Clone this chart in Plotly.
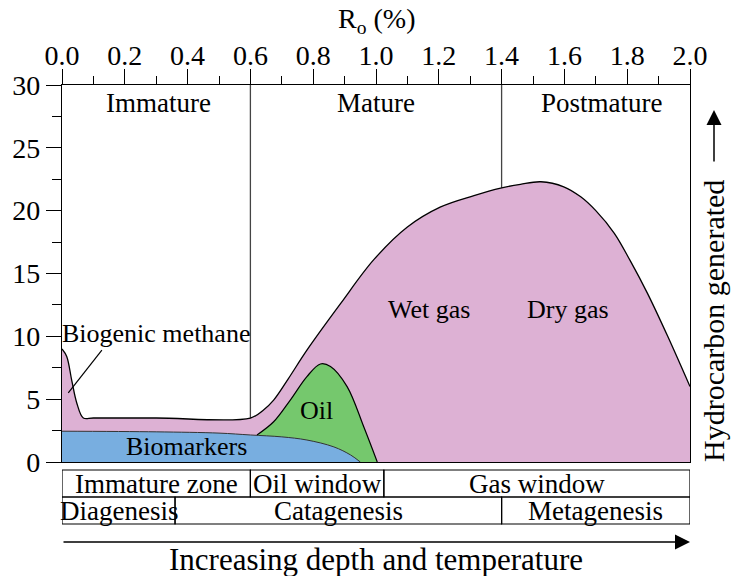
import plotly.graph_objects as go

# Hydrocarbon generation envelope vs. vitrinite reflectance Ro (%)
gas_ro = [0.0, 0.015, 0.031, 0.047, 0.068, 0.1, 0.3, 0.6, 0.64, 0.674, 0.72, 0.78, 0.887,
          0.993, 1.10, 1.206, 1.312, 1.397, 1.46, 1.525, 1.598, 1.652, 1.70, 1.759, 1.81,
          1.865, 1.929, 2.0]
gas_amt = [9.0, 8.4, 6.5, 4.7, 3.5, 3.5, 3.5, 3.5, 4.1, 4.93, 6.6, 8.9, 12.6,
           16.1, 18.7, 20.3, 21.2, 21.8, 22.1, 22.3, 21.9, 21.1, 20.0, 18.2, 16.0,
           13.4, 10.0, 6.0]

oil_ro = [0.621, 0.674, 0.727, 0.78, 0.823, 0.855, 0.908, 0.961, 1.004]
oil_amt = [2.15, 3.2, 4.93, 6.8, 7.8, 7.6, 6.0, 2.8, 0.0]

bio_ro = [0.0, 0.3, 0.5, 0.6, 0.7, 0.78, 0.866, 0.919, 0.95]
bio_amt = [2.45, 2.4, 2.3, 2.15, 2.0, 1.75, 1.2, 0.56, 0.0]

# Maturity stage boundaries (Ro %)
stage_bounds = [0.6, 1.4]
stage_names = ["Immature", "Mature", "Postmature"]
stage_label_ro = [0.308, 1.0, 1.72]

zone_bounds = [0.0, 0.6, 1.025, 2.0]
zone_names = ["Immature zone", "Oil window", "Gas window"]
genesis_bounds = [0.0, 0.36, 1.4, 2.0]
genesis_names = ["Diagenesis", "Catagenesis", "Metagenesis"]

PINK = "#DDB1D4"
BLUE = "#78AEE0"
GREEN = "#75C86D"
FONT = "Liberation Serif"
FS = 27

# pixel geometry of the plotting area
L, R, T, B = 62, 690, 85, 462
W, H = 731, 576


def py(p):
    """Vertical pixel position -> paper coordinate."""
    return (B - p) / (B - T)


def px(p):
    """Horizontal pixel position -> paper coordinate."""
    return (p - L) / (R - L)


fig = go.Figure()
fig.add_trace(go.Scatter(x=gas_ro, y=gas_amt, mode="lines", fill="tozeroy",
                         fillcolor=PINK, line=dict(color="black", width=1.3, shape="spline", smoothing=1.0),
                         hoverinfo="skip", showlegend=False))
fig.add_trace(go.Scatter(x=oil_ro, y=oil_amt, mode="lines", fill="tozeroy",
                         fillcolor=GREEN, line=dict(color="black", width=1.2, shape="spline", smoothing=1.0),
                         hoverinfo="skip", showlegend=False))
fig.add_trace(go.Scatter(x=bio_ro, y=bio_amt, mode="lines", fill="tozeroy",
                         fillcolor=BLUE, line=dict(color="#333333", width=1.0, shape="spline", smoothing=1.0),
                         hoverinfo="skip", showlegend=False))

shapes = []
for b in stage_bounds:
    shapes.append(dict(type="line", xref="x", yref="y", x0=b, x1=b, y0=0, y1=30,
                       line=dict(color="#444444", width=1.3), layer="below"))
# leader line for the biogenic methane label
shapes.append(dict(type="line", xref="x", yref="y", x0=0.127, y0=8.9, x1=0.02, y1=5.5,
                   line=dict(color="black", width=1.2)))

# zone table under the axis
row_edges = [470, 497, 524]
annotations = []
for r, (bounds, names) in enumerate([(zone_bounds, zone_names), (genesis_bounds, genesis_names)]):
    y0, y1 = py(row_edges[r + 1]), py(row_edges[r])
    for i, name in enumerate(names):
        shapes.append(dict(type="rect", xref="x", yref="paper", x0=bounds[i], x1=bounds[i + 1],
                           y0=y0, y1=y1, line=dict(color="black", width=1.2)))
        annotations.append(dict(x=(bounds[i] + bounds[i + 1]) / 2, y=(y0 + y1) / 2,
                                xref="x", yref="paper", text=name, showarrow=False,
                                font=dict(family=FONT, size=27, color="black"),
                                xanchor="center", yanchor="middle"))

for name, ro in zip(stage_names, stage_label_ro):
    annotations.append(dict(x=ro, y=28.6, xref="x", yref="y", text=name, showarrow=False,
                            font=dict(family=FONT, size=FS, color="black")))

inner_labels = [("Biogenic methane", 0.30, 10.2), ("Wet gas", 1.168, 12.1),
                ("Dry gas", 1.61, 12.1), ("Oil", 0.812, 4.1), ("Biomarkers", 0.396, 1.2)]
for name, xx, yy in inner_labels:
    annotations.append(dict(x=xx, y=yy, xref="x", yref="y", text=name, showarrow=False,
                            font=dict(family=FONT, size=26, color="black")))

# axis title on top
annotations.append(dict(x=0.5, y=py(20), xref="paper", yref="paper", text="R<sub>o</sub> (%)",
                        showarrow=False, yanchor="middle",
                        font=dict(family=FONT, size=28, color="black")))
# bottom arrow and caption
annotations.append(dict(x=1.0, y=py(542), xref="paper", yref="paper", text="", showarrow=True,
                        ax=-(R - L), ay=0, arrowhead=2, arrowsize=2.0, arrowwidth=1.5,
                        arrowcolor="black"))
annotations.append(dict(x=0.5, y=py(559), xref="paper", yref="paper",
                        text="Increasing depth and temperature", showarrow=False,
                        font=dict(family=FONT, size=31, color="black"), yanchor="middle"))
# right-side arrow and caption
annotations.append(dict(x=px(714), y=py(110), xref="paper", yref="paper", text="", showarrow=True,
                        ax=0, ay=53, arrowhead=2, arrowsize=2.0, arrowwidth=1.5, arrowcolor="black"))
annotations.append(dict(x=px(713), y=py(321), xref="paper", yref="paper",
                        text="Hydrocarbon generated", textangle=-90, showarrow=False,
                        font=dict(family=FONT, size=30, color="black"),
                        xanchor="center", yanchor="middle"))

fig.update_layout(
    width=W, height=H,
    margin=dict(l=L, r=W - R, t=T, b=H - B),
    paper_bgcolor="white", plot_bgcolor="white",
    shapes=shapes, annotations=annotations,
    font=dict(family=FONT, size=FS, color="black"),
    xaxis=dict(range=[0, 2], side="top", tickmode="linear", tick0=0, dtick=0.2, tickformat=".1f",
               ticks="outside", ticklen=15, tickwidth=1.3, tickcolor="black",
               ticklabelstandoff=-7,
               minor=dict(dtick=0.1, ticklen=8, tickwidth=1.3, tickcolor="black", ticks="outside"),
               showline=True, linecolor="black", linewidth=1.3, mirror=True,
               showgrid=False, zeroline=False, fixedrange=True,
               tickfont=dict(family=FONT, size=28, color="black")),
    yaxis=dict(range=[0, 30], tickmode="linear", tick0=0, dtick=5,
               ticks="outside", ticklen=15, tickwidth=1.3, tickcolor="black",
               minor=dict(dtick=2.5, ticklen=9, tickwidth=1.3, tickcolor="black", ticks="outside"),
               showline=True, linecolor="black", linewidth=1.3, mirror=True,
               showgrid=False, zeroline=False, fixedrange=True,
               tickfont=dict(family=FONT, size=28, color="black")),
)

fig.write_html("out.html", config={"displayModeBar": False})
